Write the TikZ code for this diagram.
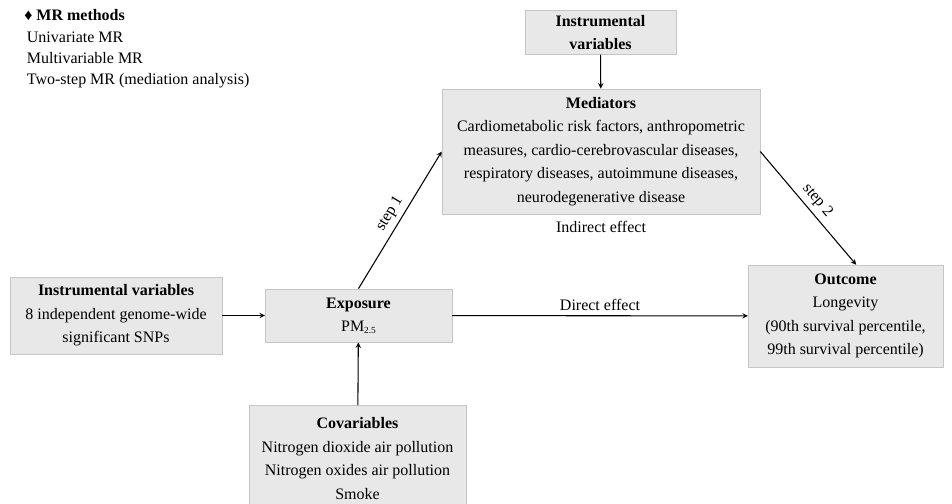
\documentclass[tikz,border=0pt]{standalone}
\usepackage{fontspec}
\setmainfont{Liberation Serif}
\usepackage{tikz}
\usetikzlibrary{arrows}
\tikzstyle{arrow} = [thick,->,>=stealth]
\tikzstyle{box} = [draw=gray!45, fill=gray!18, align=center, font=\fontsize{12}{17.6}\selectfont]

\begin{document}
\begin{tikzpicture}[x=0.75pt, y=-0.75pt]
	\useasboundingbox (0,0) rectangle (952,503);
	% methods list
	\node[anchor=north west, align=left, inner sep=0pt, font=\fontsize{12}{15.8}\selectfont] (methods) at (24,9)
		{{\large ♦ \textbf{MR methods}}\\[1pt] \,Univariate MR\\ \,Multivariable MR\\ \,Two-step MR (mediation analysis)};
	% boxes
	\node[box, minimum width=113pt, minimum height=31pt] (ivtop) at (600.5,32.5) {\textbf{Instrumental}\\ \textbf{variables}};
	\node[box, minimum width=238.5pt, minimum height=94pt] (med) at (601,151.5)
		{\textbf{Mediators}\\ Cardiometabolic risk factors, anthropometric\\ measures, cardio-cerebrovascular diseases,\\ respiratory diseases, autoimmune diseases,\\ neurodegenerative disease};
	\node[font=\fontsize{12}{14}\selectfont] (indirect) at (601,227) {Indirect effect};
	\node[box, minimum width=159pt, minimum height=58pt] (ivleft) at (116,315.5)
		{\textbf{Instrumental variables}\\ 8 independent genome-wide\\ significant SNPs};
	\node[box, minimum width=140pt, minimum height=40pt] (expo) at (358.5,315.5)
		{\textbf{Exposure}\\ PM{\raisebox{-0.2ex}{\scriptsize 2.5}}};
	\node[box, anchor=north, minimum width=163pt, minimum height=80pt] (cov) at (357.5,405)
		{\textbf{Covariables}\\ Nitrogen dioxide air pollution\\ Nitrogen oxides air pollution\\ Smoke};
	\node[box, minimum width=146pt, minimum height=76.5pt] (outc) at (845.5,316)
		{\textbf{Outcome}\\ Longevity\\ (90th survival percentile,\\ 99th survival percentile)};
	% arrows
	\draw[arrow] (ivtop) -- (med);
	\draw[arrow] (ivleft) -- (expo);
	\draw[arrow] (cov) -- (expo);
	\draw[arrow] (expo.north) -- (med.west) node[midway, sloped, above, font=\fontsize{12}{14}\selectfont] {step 1};
	\draw[arrow] (med.east) -- ([xshift=8pt]outc.north) node[midway, sloped, above, font=\fontsize{12}{14}\selectfont] {step 2};
	\draw[arrow] (expo) -- (outc) node[midway, above, font=\fontsize{12}{14}\selectfont] {Direct effect};
\end{tikzpicture}
\end{document}
